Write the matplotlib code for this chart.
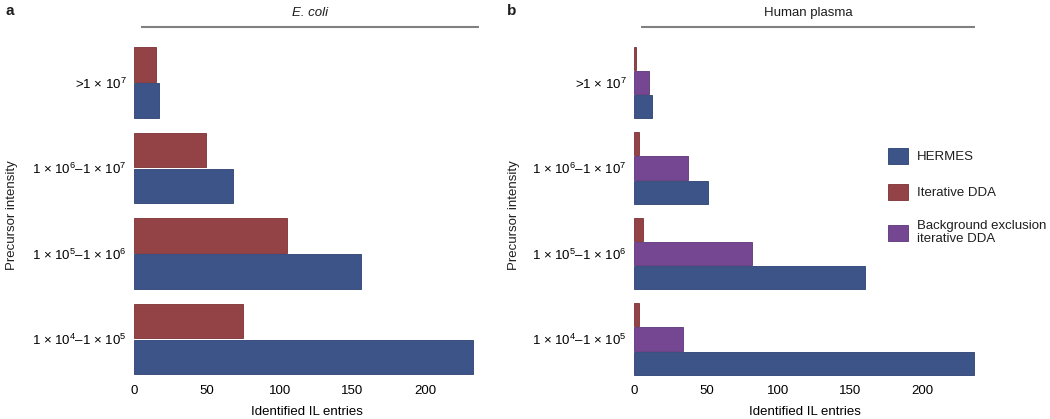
import numpy as np
import matplotlib
matplotlib.use("Agg")
import matplotlib.pyplot as plt

plt.rcParams['font.family'] = ['Liberation Sans', 'DejaVu Sans']
plt.rcParams['mathtext.fontset'] = 'custom'
plt.rcParams['mathtext.rm'] = 'Liberation Sans'
plt.rcParams['mathtext.it'] = 'Liberation Sans:italic'
plt.rcParams['mathtext.bf'] = 'Liberation Sans:bold'
plt.rcParams['font.size'] = 9.5
plt.rcParams['text.color'] = '#1e1e1e'

# categories from bottom to top
categories = ['1 × 10$^{4}$–1 × 10$^{5}$',
              '1 × 10$^{5}$–1 × 10$^{6}$',
              '1 × 10$^{6}$–1 × 10$^{7}$',
              '>1 × 10$^{7}$']

# E. coli
ecoli_hermes = [233, 156, 68, 17]
ecoli_iterative = [75, 105, 49, 15]

# Human plasma
plasma_hermes = [236, 160, 51, 12]
plasma_background = [34, 82, 37.5, 10]
plasma_iterative = [3.5, 6, 3, 1]

c_blue, e_blue = '#3d5488', '#2c3f72'
c_red, e_red = '#934345', '#7c3034'
c_purple, e_purple = '#754692', '#5e3379'

fig = plt.figure(figsize=(10.5, 4.19), dpi=100)
ax1 = fig.add_axes([0.1279, 0.0889, 0.3284, 0.8162])
ax2 = fig.add_axes([0.6041, 0.0889, 0.3244, 0.8162])

y = np.arange(len(categories))

# panel a
h = 0.40
ax1.barh(y + 0.21, ecoli_iterative, height=h, color=c_red, edgecolor=e_red, linewidth=0.6)
ax1.barh(y - 0.21, ecoli_hermes, height=h, color=c_blue, edgecolor=e_blue, linewidth=0.6)
ax1.set_xlim(0, 237)

# panel b
h = 0.27
ax2.barh(y + 0.285, plasma_iterative, height=h, color=c_red, edgecolor=e_red,
         linewidth=0.6, label='Iterative DDA')
ax2.barh(y, plasma_background, height=h, color=c_purple, edgecolor=e_purple,
         linewidth=0.6, label='Background exclusion\niterative DDA')
ax2.barh(y - 0.285, plasma_hermes, height=h, color=c_blue, edgecolor=e_blue,
         linewidth=0.6, label='HERMES')
ax2.set_xlim(0, 236.5)

for ax, title, style in [(ax1, 'E. coli', 'italic'), (ax2, 'Human plasma', 'normal')]:
    ax.set_ylim(-0.5, 3.5)
    ax.set_yticks(y)
    ax.set_yticklabels(categories)
    ax.set_xticks([0, 50, 100, 150, 200])
    ax.tick_params(length=0, labelsize=9.5)
    ax.tick_params(axis='y', pad=5.5)
    ax.tick_params(axis='x', pad=2)
    for s in ax.spines.values():
        s.set_visible(False)
    ax.set_xlabel('Identified IL entries', labelpad=7)
    ax.plot([0.02, 1.0], [1.038, 1.038], transform=ax.transAxes, color='#808080',
            lw=1.5, clip_on=False, solid_capstyle='butt')
    ax.text(0.51, 1.078, title, transform=ax.transAxes, ha='center', va='center',
            style=style)

fig.text(12 / 1050, 1 - 215 / 419, 'Precursor intensity', rotation=90,
         ha='center', va='center')
fig.text(514 / 1050, 1 - 215 / 419, 'Precursor intensity', rotation=90,
         ha='center', va='center')
fig.text(9.5 / 1050, 1 - 11 / 419, 'a', fontweight='bold', fontsize=11,
         ha='center', va='center')
fig.text(512 / 1050, 1 - 11 / 419, 'b', fontweight='bold', fontsize=11,
         ha='center', va='center')

handles, labels = ax2.get_legend_handles_labels()
order = [2, 0, 1]
ax2.legend([handles[i] for i in order], [labels[i] for i in order],
           loc='upper left', bbox_to_anchor=(876 / 1050, 1 - 136 / 419),
           bbox_transform=fig.transFigure, frameon=False,
           handlelength=1.5, handleheight=1.5, handletextpad=0.7,
           labelspacing=1.5)

fig.savefig('out.png', dpi=100)
